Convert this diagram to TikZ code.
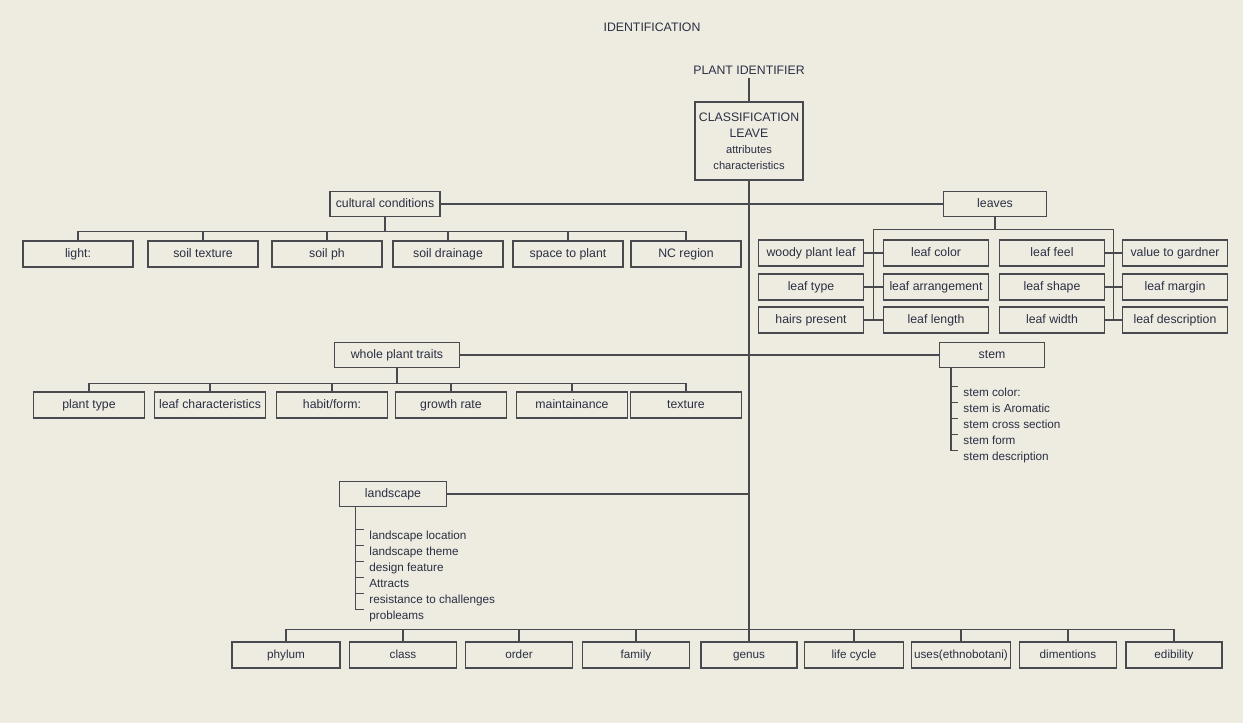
\documentclass[tikz,border=0pt]{standalone}
\usepackage{fontspec}
\setmainfont{Liberation Sans}
\usetikzlibrary{positioning, calc}

\definecolor{paper}{RGB}{238,236,225}
\definecolor{ink}{RGB}{42,46,66}
\definecolor{wirec}{RGB}{72,74,80}

\begin{document}
\begin{tikzpicture}[
    x=0.03cm, y=-0.03cm,
    font=\fontsize{10.5}{12}\selectfont,
    frame/.style={rectangle, draw=wirec, fill=paper, text=ink, line width=0.9pt},
    box/.style={frame, minimum width=3.3cm, minimum height=0.78cm, inner sep=2pt,
                text height=7.6pt, text depth=2.4pt},
    head/.style={box, minimum height=0.75cm},
    lbox/.style={box, minimum width=3.15cm},
    tbox/.style={box, minimum width=3.33cm},
    sbox/.style={box, minimum width=2.95cm, font=\fontsize{10}{12}\selectfont},
    item/.style={anchor=west, inner sep=1pt, text=ink, text height=7.5pt,
                 text depth=2pt, font=\fontsize{10}{12}\selectfont},
    wire/.style={draw=wirec, line width=0.9pt},
]
\fill[paper] (0,0) rectangle (1243,723);

\node[text=ink] (title) at (652,27) {IDENTIFICATION};
\node[text=ink] (pid) at (749,70) {PLANT IDENTIFIER};
\node[frame, minimum width=3.24cm, minimum height=2.34cm, align=center, inner sep=1pt,
      font=\fontsize{10.5}{13.6}\selectfont]
    (cls) at (749,141) {CLASSIFICATION\\LEAVE\\{\fontsize{9.5}{13.6}\selectfont attributes}\\
                        {\fontsize{9.5}{13.6}\selectfont characteristics}};

\node[head] (cult) at (385,204) {cultural conditions};
\node[head, minimum width=3.09cm] (leaves) at (995,204) {leaves};

\node[box] (light) at (78,254) {light:};
\node[box] (soiltex) at (203,254) {soil texture};
\node[box] (soilph) at (327,254) {soil ph};
\node[box] (drain) at (448,254) {soil drainage};
\node[box] (space) at (568,254) {space to plant};
\node[box] (ncreg) at (686,254) {NC region};

\node[lbox] (woody) at (811,253) {woody plant leaf};
\node[lbox] (ltype) at (811,287) {leaf type};
\node[lbox] (hairs) at (811,320) {hairs present};
\node[lbox] (lcolor) at (936,253) {leaf color};
\node[lbox] (larr) at (936,287) {leaf arrangement};
\node[lbox] (llength) at (936,320) {leaf length};
\node[lbox] (lfeel) at (1052,253) {leaf feel};
\node[lbox] (lshape) at (1052,287) {leaf shape};
\node[lbox] (lwidth) at (1052,320) {leaf width};
\node[lbox] (gvalue) at (1175,253) {value to gardner};
\node[lbox] (lmargin) at (1175,287) {leaf margin};
\node[lbox] (ldesc) at (1175,320) {leaf description};

\node[head, minimum width=3.75cm] (traits) at (397,355) {whole plant traits};
\node[head, minimum width=3.15cm] (stem) at (992,355) {stem};

\node[tbox] (ptype) at (89,405) {plant type};
\node[tbox] (lchar) at (210,405) {leaf characteristics};
\node[tbox] (habit) at (332,405) {habit/form:};
\node[tbox] (grate) at (451,405) {growth rate};
\node[tbox] (maint) at (572,405) {maintainance};
\node[tbox] (texture) at (686,405) {texture};

\node[item] (scolor) at (962,393) {stem color:};
\node[item] (sarom) at (962,409) {stem is Aromatic};
\node[item] (scross) at (962,425) {stem cross section};
\node[item] (sform) at (962,441) {stem form};
\node[item] (sdesc) at (962,457) {stem description};

\node[head, minimum width=3.2cm] (land) at (393,494) {landscape};

\node[item] (lloc) at (368,536) {landscape location};
\node[item] (ltheme) at (368,552) {landscape theme};
\node[item] (dfeat) at (368,568) {design feature};
\node[item] (attr) at (368,584) {Attracts};
\node[item] (resist) at (368,600) {resistance to challenges};
\node[item] (probs) at (368,616) {probleams};

\node[sbox, minimum width=3.24cm] (phylum) at (286,655) {phylum};
\node[sbox, minimum width=3.2cm] (class) at (403,655) {class};
\node[sbox, minimum width=3.2cm] (order) at (519,655) {order};
\node[sbox, minimum width=3.2cm] (family) at (636,655) {family};
\node[sbox, minimum width=2.88cm] (genus) at (749,655) {genus};
\node[sbox] (cycle) at (854,655) {life cycle};
\node[sbox] (uses) at (961,655) {uses(ethnobotani)};
\node[sbox, minimum width=2.91cm] (dims) at (1068,655) {dimentions};
\node[sbox, minimum width=2.88cm] (edible) at (1174,655) {edibility};

\draw[wire] (pid) -- (cls);
\draw[wire] (cls) -- (genus);
\draw[wire] (cult) -- (leaves);
\draw[wire] (traits) -- (stem);
\draw[wire] (land.east) -- (land.east -| cls.south);

\draw[wire] (cult.south) -- ++(0,14) -| (light.north)
    (cult.south) -- ++(0,14) -| (soiltex.north)
    (cult.south) -- ++(0,14) -| (soilph.north)
    (cult.south) -- ++(0,14) -| (drain.north)
    (cult.south) -- ++(0,14) -| (space.north)
    (cult.south) -- ++(0,14) -| (ncreg.north);

\draw[wire] (leaves.south) -- ++(0,12) -| ($(hairs.east)!.5!(llength.west)$)
    (leaves.south) -- ++(0,12) -| ($(lwidth.east)!.5!(ldesc.west)$);
\draw[wire] (woody) -- (lcolor) (ltype) -- (larr) (hairs) -- (llength);
\draw[wire] (lfeel) -- (gvalue) (lshape) -- (lmargin) (lwidth) -- (ldesc);

\draw[wire] (traits.south) -- ++(0,15) -| (ptype.north)
    (traits.south) -- ++(0,15) -| (lchar.north)
    (traits.south) -- ++(0,15) -| (habit.north)
    (traits.south) -- ++(0,15) -| (grate.north)
    (traits.south) -- ++(0,15) -| (maint.north)
    (traits.south) -- ++(0,15) -| (texture.north);

\coordinate (stemroot) at ([xshift=0.36cm]stem.south west);
\draw[wire] (stemroot) |- ([xshift=-0.12cm]scolor.north west)
    (stemroot) |- ([xshift=-0.12cm]sarom.north west)
    (stemroot) |- ([xshift=-0.12cm]scross.north west)
    (stemroot) |- ([xshift=-0.12cm]sform.north west)
    (stemroot) |- ([xshift=-0.12cm]sdesc.north west);

\coordinate (landroot) at ([xshift=0.48cm]land.south west);
\draw[wire] (landroot) |- ([xshift=-0.12cm]lloc.north west)
    (landroot) |- ([xshift=-0.12cm]ltheme.north west)
    (landroot) |- ([xshift=-0.12cm]dfeat.north west)
    (landroot) |- ([xshift=-0.12cm]attr.north west)
    (landroot) |- ([xshift=-0.12cm]resist.north west)
    (landroot) |- ([xshift=-0.12cm]probs.north west);

\draw[wire] (genus.north) -- ++(0,-12) -| (phylum.north)
    (genus.north) -- ++(0,-12) -| (class.north)
    (genus.north) -- ++(0,-12) -| (order.north)
    (genus.north) -- ++(0,-12) -| (family.north)
    (genus.north) -- ++(0,-12) -| (cycle.north)
    (genus.north) -- ++(0,-12) -| (uses.north)
    (genus.north) -- ++(0,-12) -| (dims.north)
    (genus.north) -- ++(0,-12) -| (edible.north);
\end{tikzpicture}
\end{document}
